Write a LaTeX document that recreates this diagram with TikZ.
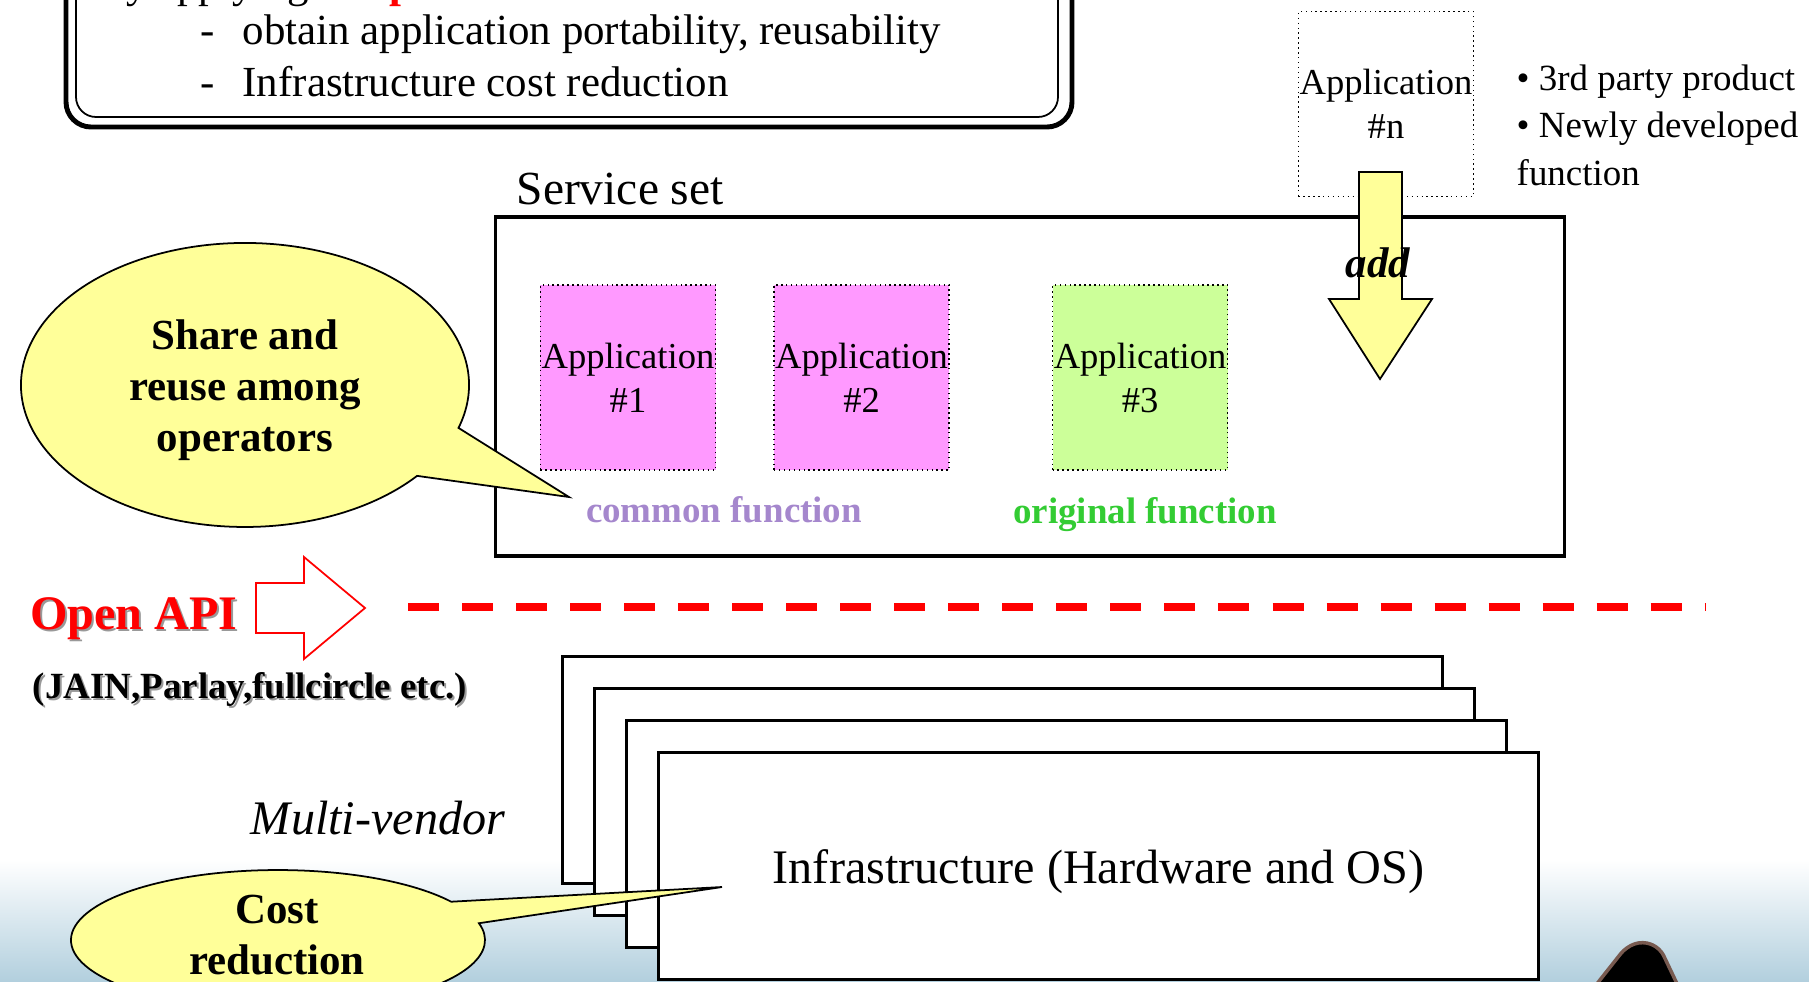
\documentclass[tikz,border=0pt]{standalone}
\usepackage{fontspec}
\setmainfont{Liberation Serif}
\usepackage{tikz}
\usetikzlibrary{positioning}
\definecolor{appmagenta}{RGB}{255,153,255}
\definecolor{appgreen}{RGB}{204,255,153}
\definecolor{calloutyellow}{RGB}{255,255,153}
\definecolor{commonlavender}{RGB}{165,135,205}
\definecolor{origgreen}{RGB}{51,204,51}
\definecolor{bgblue}{RGB}{160,196,214}
\definecolor{logobrown}{RGB}{120,90,80}

\begin{document}
\begin{tikzpicture}[x=0.01cm, y=0.01cm, node distance=0.57cm,
    txt/.style={inner sep=0pt},
    appbox/.style={draw, densely dotted, rectangle, inner sep=0pt, minimum width=1.75cm, minimum height=1.85cm, align=center, font=\fontsize{10.4}{12.5}\selectfont},
    infrabox/.style={draw, rectangle, line width=0.9pt, fill=white, minimum width=8.79cm, minimum height=2.27cm},
    callout/.style={draw, line width=0.5pt, fill=calloutyellow},
    bubbletext/.style={inner sep=0pt, align=center, font=\bfseries\fontsize{12.2}{14.5}\selectfont}]
    \useasboundingbox (0,0) rectangle (1809,-981);
    \clip (0,0) rectangle (1809,-981);
    \fill[white] (0,0) rectangle (1809,-981);
    \shade[top color=white, bottom color=bgblue] (0,-860) rectangle (1809,-1010);

    % goal box at the top (cut off)
    \draw[line width=1.4pt, rounded corners=0.25cm] (66,60) rectangle (1072,-127);
    \draw[line width=0.5pt, rounded corners=0.2cm] (76,60) rectangle (1058,-117);
    \node[txt, anchor=base west, font=\fontsize{12.2}{14}\selectfont] (intro) at (104,3) {by applying};
    \node[txt, anchor=base west, font=\bfseries\fontsize{12.2}{14}\selectfont, text=red] (introapi) at (355,3) {Open API};
    \node[txt, anchor=base west, font=\fontsize{12.2}{14}\selectfont] (goal1) at (200,-44) {\makebox[0.42cm][l]{-}obtain application portability, reusability};
    \node[txt, anchor=base west, font=\fontsize{12.2}{14}\selectfont] (goal2) at (200,-96) {\makebox[0.42cm][l]{-}Infrastructure cost reduction};

    % service set
    \node[draw, rectangle, line width=1pt, minimum width=10.68cm, minimum height=3.39cm] (svcset) at (1030,-386.5) {};
    \node[txt, anchor=base west, font=\fontsize{13.5}{15}\selectfont] (svclabel) at (516,-204) {Service set};

    \node[appbox, fill=appmagenta] (app1) at (628,-377.5) {Application\\\#1};
    \node[appbox, fill=appmagenta, right=of app1] (app2) {Application\\\#2};
    \node[appbox, fill=appgreen, right=1.02cm of app2] (app3) {Application\\\#3};
    \node[appbox, fill=white] (appn) at (1386,-104) {Application\\\#n};

    \node[txt, anchor=base, font=\bfseries\fontsize{10.5}{12}\selectfont, text=commonlavender] (commonlbl) at (724,-522) {common function};
    \node[txt, anchor=base, font=\bfseries\fontsize{10.5}{12}\selectfont, text=origgreen] (origlbl) at (1145,-523) {original function};

    \node[txt, anchor=north west, align=left, font=\fontsize{10.5}{13.4}\selectfont] (sources) at (1516,-64.5) {\textbullet{} 3rd party product\\\textbullet{} Newly developed\\function};

    % add arrow
    \filldraw[fill=calloutyellow, draw=black, line width=0.5pt] (1359,-172) -- (1402,-172) -- (1402,-299) -- (1432,-299) -- (1380,-379) -- (1329,-299) -- (1359,-299) -- cycle;
    \node[txt, anchor=base, font=\bfseries\itshape\fontsize{12.2}{14}\selectfont] (addlbl) at (1378,-277) {add};

    % share callout
    \coordinate (sharetip) at (569,-497);
    \filldraw[callout] (458.5,-427.9) arc[start angle=-17.6, end angle=320.2, x radius=224, y radius=142] -- (sharetip) -- cycle;
    \node[bubbletext] (share) at (245,-390) {Share and\\reuse among\\operators};

    % open api
    \filldraw[draw=red, fill=white, line width=0.5pt] (256,-583) -- (304,-583) -- (304,-557) -- (365,-608) -- (304,-659) -- (304,-633) -- (256,-633) -- cycle;
    \coordinate (apistart) at (408,-607);
    \coordinate (apiend) at (1705,-607);
    \draw[red, line width=0.08cm, dash pattern=on 0.31cm off 0.23cm] (apistart) -- (apiend);
    \node[txt, anchor=base, font=\bfseries\fontsize{13.7}{16}\selectfont, text=black!40] (apishadow) at (136,-631) {Open API};
    \node[txt, anchor=base, font=\bfseries\fontsize{13.7}{16}\selectfont, text=red] (api) at (134,-629) {Open API};
    \node[txt, anchor=base, font=\bfseries\fontsize{10.5}{12}\selectfont, text=black!40] (jainshadow) at (252,-700) {(JAIN,Parlay,fullcircle etc.)};
    \node[txt, anchor=base, font=\bfseries\fontsize{10.5}{12}\selectfont] (jain) at (250,-698) {(JAIN,Parlay,fullcircle etc.)};

    % infrastructure stack
    \node[infrabox] (infra1) at (1002.5,-770) {};
    \node[infrabox, xshift=0.32cm, yshift=-0.32cm] (infra2) at (infra1.center) {};
    \node[infrabox, xshift=0.32cm, yshift=-0.32cm] (infra3) at (infra2.center) {};
    \node[infrabox, xshift=0.32cm, yshift=-0.32cm] (infra4) at (infra3.center) {};
    \node[txt, anchor=base, font=\fontsize{13.7}{16}\selectfont] (infralbl) at ([yshift=-0.17cm]infra4.center) {Infrastructure (Hardware and OS)};
    \node[txt, anchor=base, font=\itshape\fontsize{13.7}{16}\selectfont] (vendor) at (378,-834) {Multi-vendor};

    % cost callout
    \coordinate (costtip) at (722,-887);
    \filldraw[callout] (451.2,-901.7) arc[start angle=33.2, end angle=373.9, x radius=207, y radius=70] -- (costtip) -- cycle;
    \node[bubbletext] (cost) at (277,-935) {Cost\\reduction};

    % logo corner
    \filldraw[fill=black, draw=logobrown, line width=1pt, rounded corners=0.08cm] (1592,-990) -- (1626,-947) -- (1643,-941) -- (1660,-948) -- (1680,-990) -- cycle;
\end{tikzpicture}
\end{document}
